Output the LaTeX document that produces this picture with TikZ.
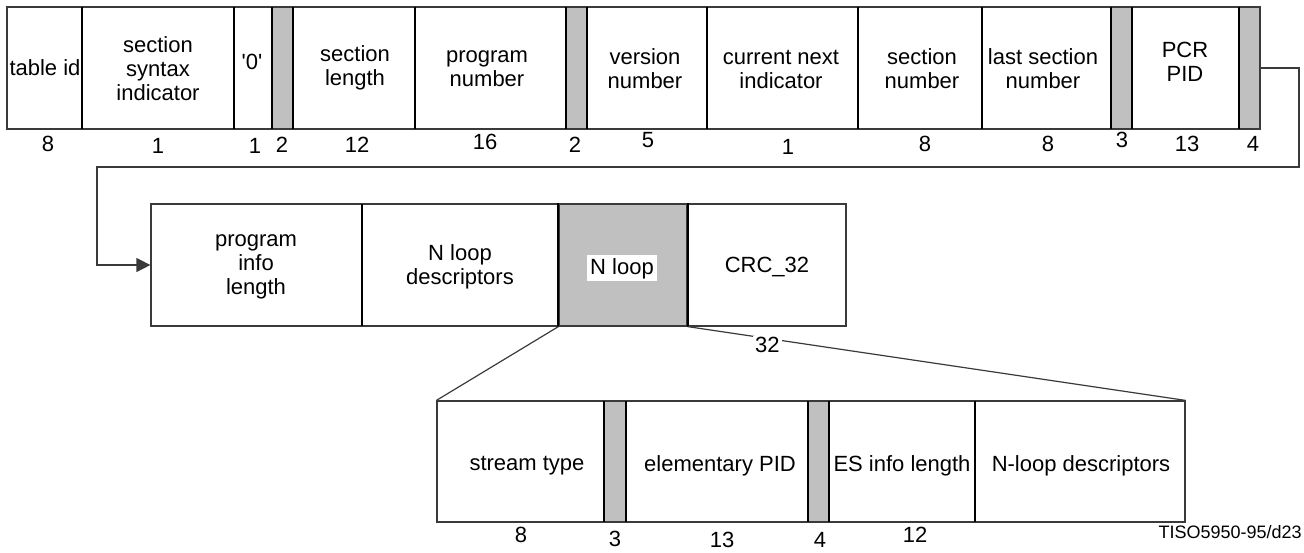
\documentclass[tikz,border=0pt]{standalone}
\usepackage{fontspec}
\setmainfont{Liberation Sans}
\usetikzlibrary{arrows.meta}
\definecolor{padgray}{HTML}{C0C0C0}
\definecolor{linegray}{HTML}{3A3A3A}

\begin{document}
\begin{tikzpicture}[x=0.5pt, y=-0.5pt, font=\fontsize{11}{12}\selectfont,
    frame/.style={draw=linegray, line width=0.6pt, inner sep=0pt, minimum height=61pt},
    sep/.style={line width=1pt},
    pad/.style={fill=padgray},
    lbl/.style={align=center, inner sep=0pt},
    bits/.style={inner sep=0pt},
    link/.style={draw=linegray, line width=0.6pt}]
  \useasboundingbox (0,0) rectangle (1304,552);

  % first row: program map section header
  \foreach \a/\b in {272/293, 566/587, 1111/1132, 1239/1260}
    \fill[pad] (\a,7) rectangle (\b,129);
  \node[frame, minimum width=626.5pt] (row1) at (633.5,68) {};
  \foreach \x in {82,234,272,293,415,566,587,707,858,982,1111,1132,1239}
    \draw[sep] (\x,7) -- (\x,129);

  \node[lbl] (tid) at (45,68) {table id};
  \node[lbl] (ssi) at (158,69) {section\\syntax\\indicator};
  \node[lbl] (zero) at (252,62) {\textquotesingle 0\textquotesingle};
  \node[lbl] (slen) at (355,68) {section\\length};
  \node[lbl] (pnum) at (487,69) {program\\number};
  \node[lbl] (vnum) at (645,69) {version\\number};
  \node[lbl] (cni) at (781,69) {current next\\indicator};
  \node[lbl] (snum) at (922,69) {section\\number};
  \node[lbl] (lsn) at (1043,69) {last section\\number};
  \node[lbl] (pcr) at (1185,62) {PCR\\PID};

  \foreach \x/\y/\n in {48/144/8, 158/146/1, 255/146/1, 282/145/2, 357/145/12,
      485/142/16, 575/145/2, 648/140/5, 788/147/1, 925/144/8, 1048/144/8,
      1122/140/3, 1187/144/13, 1253/144/4}
    \node[bits] (top-\x) at (\x,\y) {\n};

  % second row
  \node[frame, minimum width=347.5pt] (row2) at (498.5,265) {};
  \node[frame, pad, minimum width=64pt] (nloop) at (623,265) {};
  \draw[sep] (362,204) -- (362,326);
  \draw[sep] (nloop.north west) -- (nloop.south west);
  \draw[sep] (nloop.north east) -- (nloop.south east);

  \node[lbl] (pil) at (256,267) {program\\info\\length};
  \node[lbl] (nld) at (460,267) {N loop\\descriptors};
  \node[fill=white, inner xsep=1.5pt, inner ysep=1pt, text height=8.5pt, text depth=2.5pt] (nlooptxt) at (622,268) {N loop};
  \node[lbl] (crc) at (767,267) {CRC\_32};

  \draw[link, -{Triangle[length=7pt, width=7pt]}] (row1.east) -| (1299,167) -| (97,265) -- (row2.west);

  % third row: the N loop expanded
  \foreach \a/\b in {604/626, 808/829}
    \fill[pad] (\a,401) rectangle (\b,522);
  \node[frame, minimum width=374pt, minimum height=60.5pt] (row3) at (811,461.5) {};
  \foreach \x in {604,626,808,829,975}
    \draw[sep] (\x,401) -- (\x,522);

  \node[lbl] (st) at (527,466) {stream type};
  \node[lbl] (epid) at (720,466) {elementary PID};
  \node[lbl] (esil) at (902,466) {ES info length};
  \node[lbl] (nlds) at (1081,466) {N-loop descriptors};

  \foreach \x/\y/\n in {521/535/8, 615/539/3, 722/540/13, 820/540/4, 915/535/12}
    \node[bits] (low-\x) at (\x,\y) {\n};

  \draw[link] (nloop.south west) -- (row3.north west);
  \draw[link] (nloop.south east) -- node[pos=0.16, fill=white, inner sep=1pt, yshift=-3.5pt] (w32) {32} (row3.north east);

  \node[anchor=east, inner sep=0pt, font=\fontsize{9}{10}\selectfont] (tag) at (1302,532) {TISO5950-95/d23};
\end{tikzpicture}
\end{document}
